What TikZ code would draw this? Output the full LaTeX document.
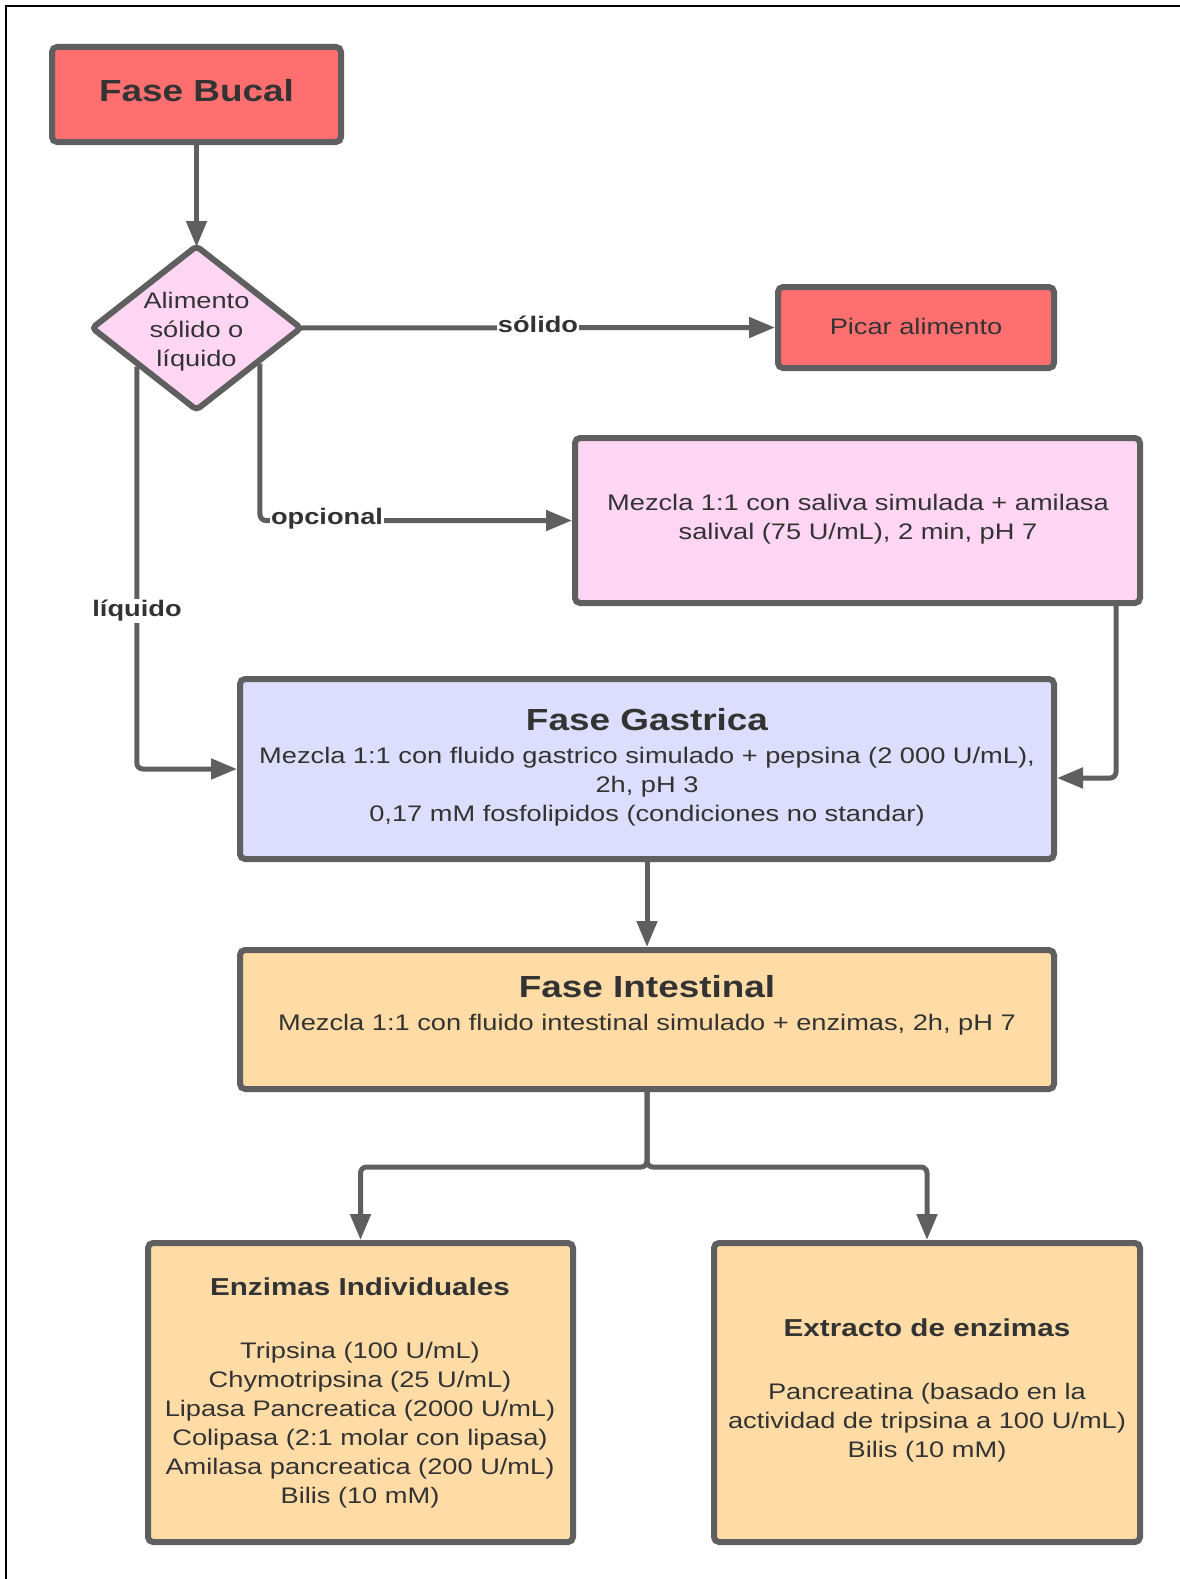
\documentclass[tikz,border=0pt]{standalone}
\usepackage{fontspec}
\setmainfont{Liberation Sans}[FakeStretch=1.21]
\usetikzlibrary{shapes.geometric,arrows.meta,calc}
\definecolor{edgegray}{HTML}{5F5F5F}
\definecolor{txtgray}{HTML}{333333}
\definecolor{redfill}{HTML}{FF6F6F}
\definecolor{pinkfill}{HTML}{FFD5F4}
\definecolor{lavfill}{HTML}{DDDDFD}
\definecolor{orfill}{HTML}{FFDCA6}
\begin{document}
\begin{tikzpicture}[x=1pt,y=-1pt,
 box/.style={draw=edgegray, line width=6pt, rounded corners=5pt, inner sep=0pt},
 txt/.style={text=txtgray, align=center, inner sep=0pt, font=\fontsize{22.5}{29}\selectfont},
 ttl/.style={text=txtgray, align=center, inner sep=0pt, font=\fontsize{30.5}{36}\selectfont\bfseries},
 sub/.style={text=txtgray, inner sep=0pt, font=\fontsize{24.5}{30}\selectfont\bfseries},
 lbl/.style={text=txtgray, fill=white, inner sep=1pt, font=\fontsize{22.5}{29}\selectfont\bfseries},
 arr/.style={draw=edgegray, line width=5pt, rounded corners=6pt, -{Triangle[length=26pt,width=20pt]}},
]
\useasboundingbox (0,0) rectangle (1180,1579);
\fill[white] (0,0) rectangle (1180,1579);
\draw[black, line width=2pt] (6,1579) -- (6,6) -- (1180,6);

% boxes
\node[box, fill=redfill, minimum width=289pt, minimum height=95pt] (bucal) at (196.5,94.5) {};
\node[diamond, draw=edgegray, fill=pinkfill, line width=6pt, rounded corners=4pt, minimum width=211pt, minimum height=166pt, inner sep=0pt] (dec) at (196.5,328) {};
\node[box, fill=redfill, minimum width=276pt, minimum height=81pt] (picar) at (916,327.5) {};
\node[box, fill=pinkfill, minimum width=565pt, minimum height=165pt] (sal) at (857.5,520.5) {};
\node[box, fill=lavfill, minimum width=814pt, minimum height=180pt] (gas) at (647,769) {};
\node[box, fill=orfill, minimum width=814pt, minimum height=139pt] (int) at (647,1019.5) {};
\node[box, fill=orfill, minimum width=425pt, minimum height=299pt] (ind) at (360.5,1392.5) {};
\node[box, fill=orfill, minimum width=426pt, minimum height=299pt] (ext) at (927,1392.5) {};

% texts
\node[ttl] (tbucal) at (196.5,91) {Fase Bucal};
\node[txt] (tdec) at (196.5,332) {Alimento\\sólido o\\líquido};
\node[txt] (tpicar) at (916,326) {Picar alimento};
\node[txt] (tsal) at (858,519) {Mezcla 1:1 con saliva simulada + amilasa\\salival (75 U/mL), 2 min, pH 7};
\node[ttl] (tgas) at (647,720) {Fase Gastrica};
\node[txt] (bgas) at (647,787) {Mezcla 1:1 con fluido gastrico simulado + pepsina (2 000 U/mL),\\2h, pH 3\\0,17 mM fosfolipidos (condiciones no standar)};
\node[ttl] (tint) at (647,987) {Fase Intestinal};
\node[txt] (bint) at (647,1025) {Mezcla 1:1 con fluido intestinal simulado + enzimas, 2h, pH 7};
\node[sub] (tind) at (360,1287) {Enzimas Individuales};
\node[txt] (bind) at (360,1425) {Tripsina (100 U/mL)\\Chymotripsina (25 U/mL)\\Lipasa Pancreatica (2000 U/mL)\\Colipasa (2:1 molar con lipasa)\\Amilasa pancreatica (200 U/mL)\\Bilis (10 mM)};
\node[sub] (text) at (927,1328) {Extracto de enzimas};
\node[txt] (bext) at (927,1423) {Pancreatina (basado en la\\actividad de tripsina a 100 U/mL)\\Bilis (10 mM)};

% connectors
\coordinate (sx) at (1116,0);
\draw[arr] (bucal.south) -- ($(dec.north)+(0,5)$);
\draw[arr] ($(dec.east)+(-6,0)$) -- (picar.west);
\draw[arr] ($(dec.east)!0.415!(dec.south)$) |- (sal.west);
\draw[arr] ($(dec.west)!0.45!(dec.south)$) |- (gas.west);
\draw[arr] (sal.south -| sx) |- ($(gas.east)+(0,9)$);
\draw[arr] (gas.south) -- (int.north);
\draw[arr] (int.south) -- ++(0,75) -| (ind.north);
\draw[arr] (int.south) -- ++(0,75) -| (ext.north);

% labels
\node[lbl] (lsol) at (538,324) {sólido};
\node[lbl] (lopc) at (327,519) {opcional};
\node[lbl] (lliq) at (137,611) {líquido};
\end{tikzpicture}
\end{document}
